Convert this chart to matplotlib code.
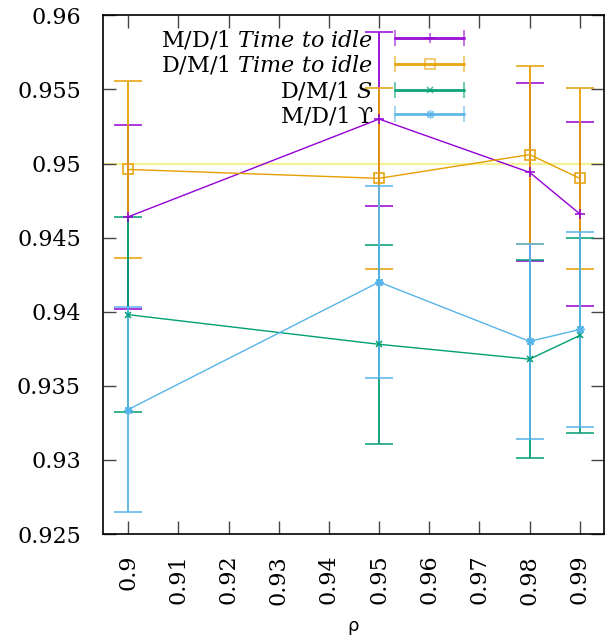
import matplotlib

matplotlib.use("Agg")
import matplotlib.pyplot as plt
import numpy as np
from matplotlib.container import ErrorbarContainer
from matplotlib.legend_handler import HandlerErrorbar
from matplotlib.ticker import FuncFormatter

plt.rcParams["font.family"] = ["DejaVu Serif"]
plt.rcParams["mathtext.fontset"] = "dejavuserif"

# load values
rho = [0.90, 0.95, 0.98, 0.99]

md1_idle = [0.9464, 0.9530, 0.9494, 0.9466]
md1_idle_err = [0.0062, 0.0059, 0.0060, 0.0062]

dm1_idle = [0.9496, 0.9490, 0.9506, 0.9490]
dm1_idle_err = [0.0060, 0.0061, 0.0060, 0.0061]

dm1_s = [0.9398, 0.9378, 0.9368, 0.9384]
dm1_s_err = [0.0066, 0.0067, 0.0067, 0.0066]

md1_ups = [0.9334, 0.9420, 0.9380, 0.9388]
md1_ups_err = [0.0069, 0.0065, 0.0066, 0.0066]

target = 0.95

x_ticks = [0.90, 0.91, 0.92, 0.93, 0.94, 0.95, 0.96, 0.97, 0.98, 0.99]
y_ticks = [0.925, 0.93, 0.935, 0.94, 0.945, 0.95, 0.955, 0.96]

series = [
    ("M/D/1 $\\mathit{Time\\ to\\ idle}$", md1_idle, md1_idle_err, "#9400d3", "+", 7),
    ("D/M/1 $\\mathit{Time\\ to\\ idle}$", dm1_idle, dm1_idle_err, "#e69f00", "s", 6.5),
    ("D/M/1 $\\mathit{S}$", dm1_s, dm1_s_err, "#009e73", "x", 5),
    ("M/D/1 ϒ", md1_ups, md1_ups_err, "#56b4e9", (8, 2, 0), 6),
]

fig = plt.figure(figsize=(6.1, 6.43), dpi=100)
ax = fig.add_axes([0.169, 0.1695, 0.821, 0.8067])

ax.axhline(target, color="#f0e442", alpha=0.55, lw=1.6, zorder=1)

handles = []
for label, vals, errs, color, marker, ms in series:
    ax.errorbar(rho, vals, yerr=errs, color=color, marker=marker, ms=ms,
                mfc="none", mew=1.1, lw=1.0, elinewidth=1.3, capsize=10,
                capthick=1.3, ecolor=color, zorder=3)
    # proxy with horizontal bars for the key, like gnuplot draws it
    proxy = ax.errorbar([np.nan], [np.nan], xerr=[0.0], color=color,
                        marker=marker, ms=ms, mfc="none", mew=1.1, lw=2.0,
                        elinewidth=2.0, capsize=5.5, capthick=1.3, alpha=0.7)
    handles.append(proxy)

leg = ax.legend(handles, [s[0] for s in series], loc="upper right",
                bbox_to_anchor=(0.7206, 0.975), frameon=False, markerfirst=False,
                fontsize=16, handlelength=3.1, handletextpad=1.0,
                labelspacing=0.12, borderpad=0, borderaxespad=0,
                handler_map={ErrorbarContainer: HandlerErrorbar(xerr_size=1.55)})

ax.set_xlim(0.895, 0.9948)
ax.set_ylim(0.925, 0.96)
ax.set_xticks(x_ticks)
ax.set_yticks(y_ticks)
ax.xaxis.set_major_formatter(FuncFormatter(lambda v, _: f"{v:g}"))
ax.yaxis.set_major_formatter(FuncFormatter(lambda v, _: f"{v:g}"))
ax.tick_params(axis="both", direction="in", length=9.5, width=1.0,
               top=True, right=True, labelsize=16, color="#444444")
ax.tick_params(axis="x", rotation=90, pad=15)
ax.tick_params(axis="y", pad=16)
for sp in ax.spines.values():
    sp.set_linewidth(1.2)

ax.set_xlabel("ρ", fontsize=13, family="DejaVu Sans", labelpad=9)

fig.savefig("out.png", dpi=100)
